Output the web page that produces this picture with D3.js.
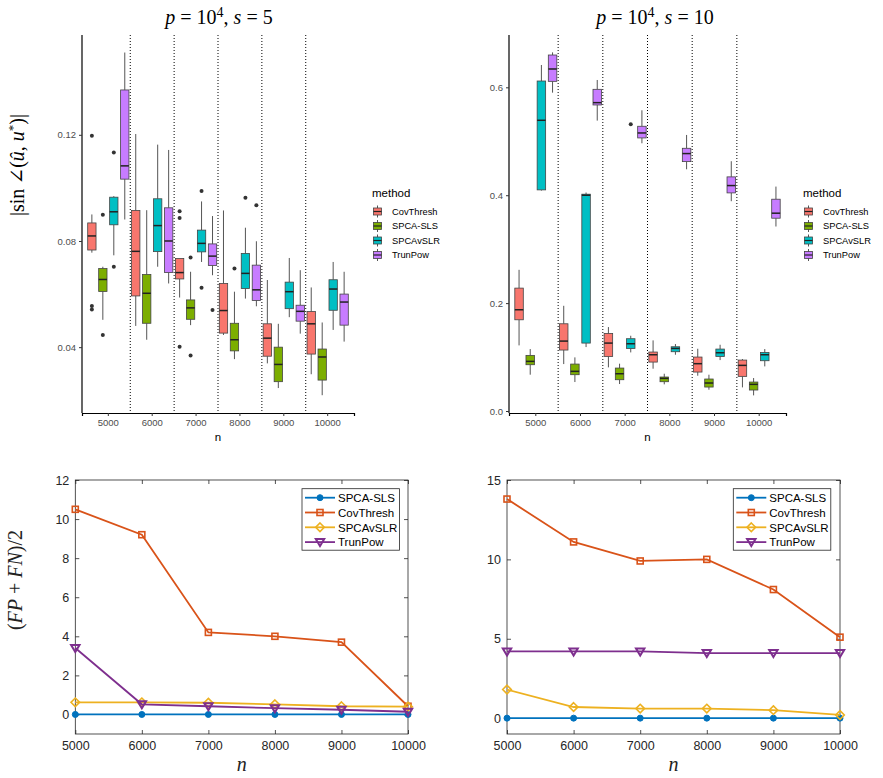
<!DOCTYPE html>
<html><head><meta charset="utf-8">
<script src="https://cdn.jsdelivr.net/npm/d3@7"></script>
<style>body{margin:0;background:#fff} svg{display:block}</style>
</head><body>
<svg id="c" width="883" height="778"></svg>
<script>
// ---------- data ----------
const nLabels = ["5000","6000","7000","8000","9000","10000"];
const nValues = [5000,6000,7000,8000,9000,10000];
const methods = ["CovThresh","SPCA-SLS","SPCAvSLR","TrunPow"];
const methodColors = ["#F8766D","#7CAE00","#00BFC4","#C77CFF"];

// box stats: [lower whisker, Q1, median, Q3, upper whisker] for each n  (p=1e4, s=5)
const s5CovThresh = [[0.0756,0.0766,0.0819,0.0868,0.0900],[0.0480,0.0593,0.0761,0.0915,0.1203],[0.0587,0.0657,0.0681,0.0734,0.0734],[0.0446,0.0453,0.0538,0.0640,0.0915],[0.0339,0.0366,0.0434,0.0488,0.0653],[0.0298,0.0374,0.0488,0.0534,0.0625]];
const s5SLS       = [[0.0503,0.0610,0.0655,0.0696,0.0703],[0.0428,0.0490,0.0603,0.0674,0.0916],[0.0483,0.0505,0.0548,0.0578,0.0684],[0.0355,0.0386,0.0428,0.0490,0.0609],[0.0246,0.0270,0.0335,0.0400,0.0488],[0.0219,0.0276,0.0363,0.0393,0.0493]];
const s5SPCAvSLR  = [[0.0746,0.0861,0.0910,0.0965,0.0969],[0.0703,0.0760,0.0858,0.0959,0.1163],[0.0721,0.0759,0.0791,0.0841,0.0949],[0.0583,0.0621,0.0678,0.0753,0.0850],[0.0513,0.0545,0.0609,0.0645,0.0736],[0.0465,0.0539,0.0619,0.0654,0.0721]];
const s5TrunPow   = [[0.0881,0.1033,0.1083,0.1369,0.1510],[0.0640,0.0681,0.0800,0.0925,0.1143],[0.0671,0.0708,0.0743,0.0789,0.0894],[0.0554,0.0576,0.0616,0.0709,0.0799],[0.0451,0.0498,0.0535,0.0558,0.0690],[0.0421,0.0483,0.0570,0.0600,0.0684]];
// outliers: [n, value]
const s5CovThreshOut = [["5000",0.1196],["5000",0.0555],["5000",0.0542],["7000",0.0912],["7000",0.0887],["7000",0.0402]];
const s5SLSOut       = [["5000",0.0899],["5000",0.0446],["7000",0.0738],["7000",0.0369],["8000",0.0696]];
const s5SPCAvSLROut  = [["5000",0.1133],["5000",0.0703],["7000",0.0988],["7000",0.0624],["8000",0.0963]];
const s5TrunPowOut   = [["7000",0.0540],["8000",0.0935]];

// (p=1e4, s=10)
const s10CovThresh = [[0.1216,0.1691,0.1877,0.2278,0.2617],[0.0870,0.1130,0.1296,0.1617,0.1950],[0.0809,0.1012,0.1259,0.1438,0.1556],[0.0784,0.0907,0.1043,0.1093,0.1309],[0.0654,0.0722,0.0877,0.1000,0.1154],[0.0438,0.0642,0.0846,0.0944,0.0963]];
const s10SLS       = [[0.0673,0.0858,0.0920,0.1031,0.1148],[0.0537,0.0673,0.0735,0.0870,0.0994],[0.0500,0.0580,0.0691,0.0796,0.0877],[0.0494,0.0543,0.0605,0.0630,0.0691],[0.0395,0.0444,0.0519,0.0593,0.0673],[0.0290,0.0389,0.0494,0.0537,0.0611]];
const s10SPCAvSLR  = [[0.4086,0.4099,0.5389,0.6117,0.6414],[0.1185,0.1259,0.4000,0.4019,0.4050],[0.1086,0.1160,0.1247,0.1340,0.1395],[0.1043,0.1099,0.1160,0.1191,0.1241],[0.0944,0.1012,0.1080,0.1148,0.1228],[0.0827,0.0932,0.1043,0.1086,0.1148]];
const s10TrunPow   = [[0.5901,0.6111,0.6340,0.6599,0.6648],[0.5383,0.5673,0.5716,0.5963,0.6136],[0.4963,0.5062,0.5154,0.5278,0.5574],[0.4481,0.4623,0.4772,0.4870,0.5117],[0.3889,0.4043,0.4179,0.4340,0.4630],[0.3420,0.3574,0.3667,0.3926,0.4160]];
const s10CovThreshOut = [];
const s10SLSOut       = [];
const s10SPCAvSLROut  = [["7000",0.5315]];
const s10TrunPowOut   = [];

const s5YTicks  = [0.04, 0.08, 0.12];
const s10YTicks = [0.0, 0.2, 0.4, 0.6];

// support recovery (FP+FN)/2
const lineMethods = ["SPCA-SLS","CovThresh","SPCAvSLR","TrunPow"];
const lineColors  = ["#0072BD","#D95319","#EDB120","#7E2F8E"];
const err5SLS       = [0, 0, 0, 0, 0, 0];
const err5CovThresh = [10.5, 9.2, 4.2, 4.0, 3.7, 0.42];
const err5SPCAvSLR  = [0.62, 0.62, 0.6, 0.52, 0.42, 0.4];
const err5TrunPow   = [3.4, 0.52, 0.42, 0.32, 0.24, 0.14];
const err10SLS       = [0, 0, 0, 0, 0, 0];
const err10CovThresh = [13.8, 11.1, 9.9, 10.0, 8.1, 5.1];
const err10SPCAvSLR  = [1.8, 0.7, 0.6, 0.6, 0.5, 0.2];
const err10TrunPow   = [4.2, 4.2, 4.2, 4.1, 4.1, 4.1];
const err5YTicks  = [0, 2, 4, 6, 8, 10, 12];
const err10YTicks = [0, 5, 10, 15];

// ---------- drawing ----------
const svg = d3.select("#c");
const SANS = "'Liberation Sans', Arial, sans-serif";
const SERIF = "'Liberation Serif', 'DejaVu Serif', serif";

function boxPanel(o) {
  const g = svg.append("g");
  const x = d3.scaleBand().domain(nLabels).range([o.x0, o.x1]).paddingOuter(0.1).paddingInner(0);
  const y = d3.scaleLinear().domain(o.yDomain).range([o.y1, o.y0]);
  const inner = d3.scaleBand().domain(methods).range([0, x.bandwidth()]);
  const bw = inner.bandwidth() * 0.76;

  // separators
  g.selectAll("line.sep").data(nLabels.slice(0, 5)).enter().append("line")
    .attr("x1", d => x(d) + x.step()).attr("x2", d => x(d) + x.step())
    .attr("y1", o.y0).attr("y2", o.y1)
    .attr("stroke", "#000").attr("stroke-width", 1).attr("stroke-dasharray", "1,2");

  methods.forEach((m, mi) => {
    const stats = o.stats[mi];
    const cx = d => x(nLabels[d.i]) + inner(m) + inner.bandwidth() / 2;
    const data = stats.map((s, i) => ({i, s}));
    const gg = g.append("g");
    gg.selectAll("line.wu").data(data).enter().append("line")
      .attr("x1", cx).attr("x2", cx).attr("y1", d => y(d.s[3])).attr("y2", d => y(d.s[4]))
      .attr("stroke", "#555").attr("stroke-width", 1);
    gg.selectAll("line.wl").data(data).enter().append("line")
      .attr("x1", cx).attr("x2", cx).attr("y1", d => y(d.s[1])).attr("y2", d => y(d.s[0]))
      .attr("stroke", "#555").attr("stroke-width", 1);
    gg.selectAll("rect").data(data).enter().append("rect")
      .attr("x", d => cx(d) - bw / 2).attr("width", bw)
      .attr("y", d => y(d.s[3])).attr("height", d => Math.max(0.5, y(d.s[1]) - y(d.s[3])))
      .attr("fill", methodColors[mi]).attr("stroke", "#444").attr("stroke-width", 0.8);
    gg.selectAll("line.med").data(data).enter().append("line")
      .attr("x1", d => cx(d) - bw / 2).attr("x2", d => cx(d) + bw / 2)
      .attr("y1", d => y(d.s[2])).attr("y2", d => y(d.s[2]))
      .attr("stroke", "#222").attr("stroke-width", 1.5);
    g.selectAll(null).data(o.outliers[mi]).enter().append("circle")
      .attr("cx", d => x(d[0]) + inner(m) + inner.bandwidth() / 2)
      .attr("cy", d => y(d[1])).attr("r", 2)
      .attr("fill", "#333");
  });

  const ax = g.append("g").attr("transform", `translate(0,${o.y1})`)
    .call(d3.axisBottom(x).tickSizeOuter(0).tickSize(3).tickPadding(3));
  const ay = g.append("g").attr("transform", `translate(${o.x0},0)`)
    .call(d3.axisLeft(y).tickValues(o.yTicks).tickFormat(o.yFmt).tickSizeOuter(0).tickSize(3).tickPadding(3));
  [ax, ay].forEach(a => {
    a.select(".domain").attr("stroke", "#000").attr("stroke-width", 1.2);
    a.selectAll(".tick line").attr("stroke", "#333");
    a.selectAll(".tick text").attr("fill", "#4d4d4d").style("font-family", SANS).style("font-size", "9.5px");
  });
  ay.select(".domain").attr("d", `M0,${o.y0}V${o.y1}`);

  g.append("text").attr("x", (o.x0 + o.x1) / 2).attr("y", 441).attr("text-anchor", "middle")
    .style("font-family", SANS).style("font-size", "11.5px").attr("fill", "#000").text("n");

  const t = g.append("text").attr("x", o.titleX).attr("y", 24).attr("text-anchor", "middle")
    .style("font-family", SERIF).style("font-size", "20px").attr("fill", "#000");
  t.append("tspan").style("font-style", "italic").text("p");
  t.append("tspan").text(" = 10");
  t.append("tspan").attr("dy", -7).style("font-size", "14px").text("4");
  t.append("tspan").attr("dy", 7).text(", ");
  t.append("tspan").style("font-style", "italic").text("s");
  t.append("tspan").text(" = " + o.sVal);

  const lg = g.append("g");
  lg.append("text").attr("x", o.legX).attr("y", 197)
    .style("font-family", SANS).style("font-size", "11.5px").attr("fill", "#000").text("method");
  methods.forEach((m, i) => {
    const cy = 211.5 + i * 14.5;
    const kx = o.legX + 5.5;
    lg.append("line").attr("x1", kx).attr("x2", kx).attr("y1", cy - 6).attr("y2", cy + 6)
      .attr("stroke", "#555").attr("stroke-width", 1);
    lg.append("rect").attr("x", kx - 4).attr("y", cy - 3.5).attr("width", 8).attr("height", 7)
      .attr("fill", methodColors[i]).attr("stroke", "#444").attr("stroke-width", 0.8);
    lg.append("line").attr("x1", kx - 4).attr("x2", kx + 4).attr("y1", cy).attr("y2", cy)
      .attr("stroke", "#222").attr("stroke-width", 1.2);
    lg.append("text").attr("x", o.legX + 20).attr("y", cy + 3.3)
      .style("font-family", SANS).style("font-size", "9.3px").attr("fill", "#000").text(m);
  });
}

boxPanel({x0: 82, x1: 354, y0: 35, y1: 413, yDomain: [0.0152, 0.1576],
  stats: [s5CovThresh, s5SLS, s5SPCAvSLR, s5TrunPow],
  outliers: [s5CovThreshOut, s5SLSOut, s5SPCAvSLROut, s5TrunPowOut],
  yTicks: s5YTicks, yFmt: d3.format(".2f"), titleX: 219, sVal: "5", legX: 372});
boxPanel({x0: 509, x1: 786, y0: 35, y1: 413, yDomain: [-0.0037, 0.697],
  stats: [s10CovThresh, s10SLS, s10SPCAvSLR, s10TrunPow],
  outliers: [s10CovThreshOut, s10SLSOut, s10SPCAvSLROut, s10TrunPowOut],
  yTicks: s10YTicks, yFmt: d3.format(".1f"), titleX: 655, sVal: "10", legX: 803});

(function(){
  const t = svg.append("text").attr("transform", "translate(24,165) rotate(-90)")
    .attr("text-anchor", "middle").style("font-family", SERIF).style("font-size", "20px").attr("fill", "#000");
  t.append("tspan").text("|sin\u2009\u2220(");
  t.append("tspan").style("font-style", "italic").text("\u00fb");
  t.append("tspan").text(", ");
  t.append("tspan").style("font-style", "italic").text("u");
  t.append("tspan").attr("dy", -7).style("font-size", "13px").text("*");
  t.append("tspan").attr("dy", 7).text(")|");
})();

function linePanel(o) {
  const g = svg.append("g");
  const x = d3.scaleLinear().domain([5000, 10000]).range([o.x0, o.x1]);
  const y = d3.scaleLinear().domain(o.yDomain).range([o.y1, o.y0]);
  const axCol = "#262626";
  g.append("rect").attr("x", o.x0).attr("y", o.y0).attr("width", o.x1 - o.x0).attr("height", o.y1 - o.y0)
    .attr("fill", "#fff");
  const style = a => {
    a.select(".domain").remove();
    a.selectAll(".tick line").attr("stroke", axCol).attr("stroke-width", 0.8);
    a.selectAll(".tick text").attr("fill", axCol).style("font-family", SANS).style("font-size", "12.5px");
  };
  style(g.append("g").attr("transform", `translate(0,${o.y1})`)
    .call(d3.axisBottom(x).tickValues(nValues).tickFormat(d3.format("d")).tickSize(-4).tickPadding(7)));
  style(g.append("g").attr("transform", `translate(0,${o.y0})`)
    .call(d3.axisTop(x).tickValues(nValues).tickFormat("").tickSize(-4)));
  style(g.append("g").attr("transform", `translate(${o.x0},0)`)
    .call(d3.axisLeft(y).tickValues(o.yTicks).tickSize(-4).tickPadding(6)));
  style(g.append("g").attr("transform", `translate(${o.x1},0)`)
    .call(d3.axisRight(y).tickValues(o.yTicks).tickFormat("").tickSize(-4)));
  g.append("rect").attr("x", o.x0).attr("y", o.y0).attr("width", o.x1 - o.x0).attr("height", o.y1 - o.y0)
    .attr("fill", "none").attr("stroke", axCol).attr("stroke-width", 0.8);

  const line = d3.line().x((d, i) => x(nValues[i])).y(d => y(d));
  o.series.forEach((s, k) => {
    g.append("path").datum(s).attr("d", line).attr("fill", "none")
      .attr("stroke", lineColors[k]).attr("stroke-width", 1.8);
    s.forEach((v, i) => drawMarker(g, k, x(nValues[i]), y(v)));
  });

  const lx = o.legX, ly = 488.7;
  g.append("rect").attr("x", lx).attr("y", ly).attr("width", 97.5).attr("height", 61.5)
    .attr("fill", "#fff").attr("stroke", axCol).attr("stroke-width", 0.8);
  lineMethods.forEach((m, k) => {
    const cy = 497.7 + k * 14.8;
    g.append("line").attr("x1", lx + 3).attr("x2", lx + 33).attr("y1", cy).attr("y2", cy)
      .attr("stroke", lineColors[k]).attr("stroke-width", 1.8);
    drawMarker(g, k, lx + 18, cy);
    g.append("text").attr("x", lx + 36).attr("y", cy + 4.2)
      .style("font-family", SANS).style("font-size", "11.5px").attr("fill", "#000").text(m);
  });

  g.append("text").attr("x", (o.x0 + o.x1) / 2).attr("y", 771).attr("text-anchor", "middle")
    .style("font-family", SERIF).style("font-style", "italic").style("font-size", "20px").attr("fill", "#222").text("n");
}

function drawMarker(g, k, cx, cy) {
  const c = lineColors[k];
  if (k === 0) {
    g.append("circle").attr("cx", cx).attr("cy", cy).attr("r", 3).attr("fill", c).attr("stroke", c);
  } else if (k === 1) {
    g.append("rect").attr("x", cx - 3).attr("y", cy - 3).attr("width", 6).attr("height", 6)
      .attr("fill", "none").attr("stroke", c).attr("stroke-width", 1.6);
  } else if (k === 2) {
    g.append("path").attr("d", `M${cx},${cy - 4.3}L${cx + 4.3},${cy}L${cx},${cy + 4.3}L${cx - 4.3},${cy}Z`)
      .attr("fill", "none").attr("stroke", c).attr("stroke-width", 1.6);
  } else {
    g.append("path").attr("d", `M${cx - 4.2},${cy - 3}L${cx + 4.2},${cy - 3}L${cx},${cy + 4}Z`)
      .attr("fill", "none").attr("stroke", c).attr("stroke-width", 2);
  }
}

linePanel({x0: 75.3, x1: 408, y0: 480, y1: 734, yDomain: [-1, 12], yTicks: err5YTicks,
  series: [err5SLS, err5CovThresh, err5SPCAvSLR, err5TrunPow], legX: 302});
linePanel({x0: 507, x1: 840, y0: 480, y1: 734, yDomain: [-1, 15], yTicks: err10YTicks,
  series: [err10SLS, err10CovThresh, err10SPCAvSLR, err10TrunPow], legX: 733.3});

(function(){
  const t = svg.append("text").attr("transform", "translate(22,580) rotate(-90)")
    .attr("text-anchor", "middle").style("font-family", SERIF).style("font-size", "20px").attr("fill", "#222");
  t.append("tspan").text("(");
  t.append("tspan").style("font-style", "italic").text("FP");
  t.append("tspan").text(" + ");
  t.append("tspan").style("font-style", "italic").text("FN");
  t.append("tspan").text(")/2");
})();
</script>
</body></html>
